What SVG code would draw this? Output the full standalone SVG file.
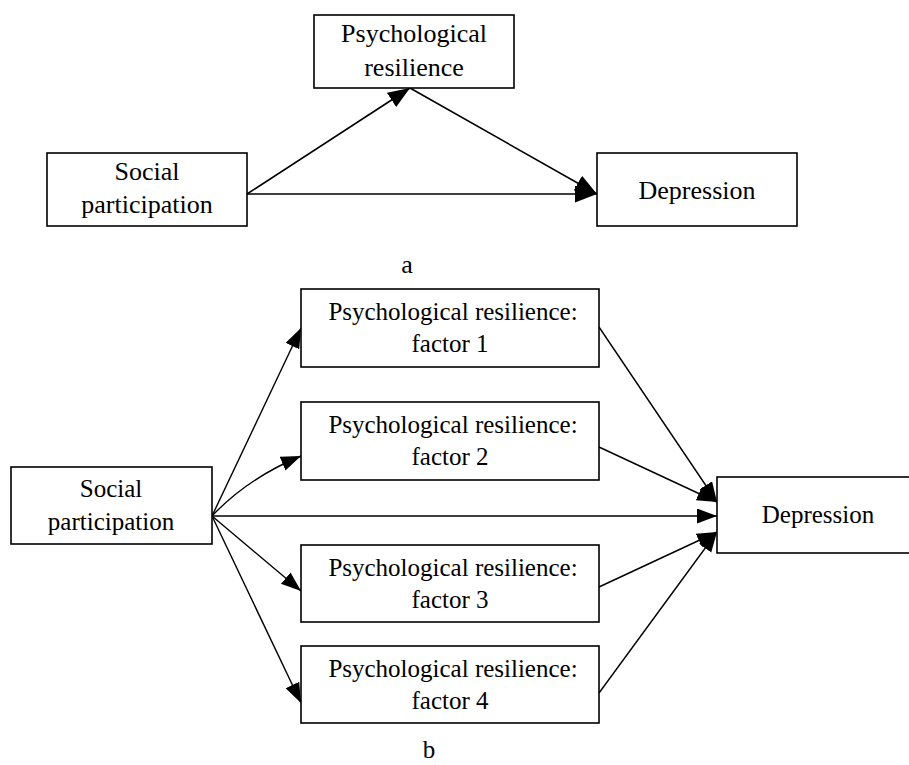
<svg xmlns="http://www.w3.org/2000/svg" width="909" height="765" viewBox="0 0 909 765">
<style>
.box{fill:#fff;stroke:#000;stroke-width:1.6}
.t{font-family:"Liberation Serif","Times New Roman",serif;fill:#000;text-anchor:middle}
.ta{font-size:26px}
.tb{font-size:25px}
.ca{fill:none;stroke:#000;stroke-width:1.6;marker-end:url(#ha)}
.cb{fill:none;stroke:#000;stroke-width:1.4;marker-end:url(#hb)}
</style>
<defs>
<marker id="ha" markerUnits="userSpaceOnUse" markerWidth="24" markerHeight="18" refX="22" refY="8.5" orient="auto" viewBox="0 0 24 18">
<path d="M0,0 L22,8.5 L0,17 Z" fill="#000"/>
</marker>
<marker id="hb" markerUnits="userSpaceOnUse" markerWidth="22" markerHeight="16" refX="20" refY="7.5" orient="auto" viewBox="0 0 22 16">
<path d="M0,0 L20,7.5 L0,15 Z" fill="#000"/>
</marker>
</defs>
<g id="connectors">
<path class="ca" d="M247,194 L410,88"/>
<path class="ca" d="M410,88 L597,194"/>
<path class="ca" d="M247,194 L597,194"/>
<path class="cb" d="M212,516 L301,328"/>
<path class="cb" d="M212,516 Q248,478 301,456"/>
<path class="cb" d="M212,516 L717,516"/>
<path class="cb" d="M212,516 L301,591"/>
<path class="cb" d="M212,516 L301,703"/>
<path class="cb" d="M599,327 L717,502"/>
<path class="cb" d="M599,447 L717,502"/>
<path class="cb" d="M599,587 L717,532"/>
<path class="cb" d="M599,693 L717,532"/>
</g>
<g id="a-resilience">
<rect class="box" x="314" y="15" width="200" height="73"/>
<text class="t ta" x="414" y="42">Psychological</text>
<text class="t ta" x="414" y="76">resilience</text>
</g>
<g id="a-social">
<rect class="box" x="47" y="153" width="200" height="73"/>
<text class="t ta" x="147" y="180">Social</text>
<text class="t ta" x="147" y="213">participation</text>
</g>
<g id="a-depression">
<rect class="box" x="597" y="153" width="200" height="73"/>
<text class="t ta" x="697" y="199">Depression</text>
</g>
<text class="t ta" x="407" y="273">a</text>
<g id="b-social">
<rect class="box" x="11" y="467" width="201" height="77"/>
<text class="t tb" x="111" y="497">Social</text>
<text class="t tb" x="111" y="530">participation</text>
</g>
<g id="b-factor1">
<rect class="box" x="301" y="289" width="298" height="78"/>
<text class="t tb" x="453" y="320">Psychological resilience:</text>
<text class="t tb" x="450" y="352">factor 1</text>
</g>
<g id="b-factor2">
<rect class="box" x="301" y="402" width="298" height="78"/>
<text class="t tb" x="453" y="433">Psychological resilience:</text>
<text class="t tb" x="450" y="465">factor 2</text>
</g>
<g id="b-factor3">
<rect class="box" x="301" y="545" width="298" height="77"/>
<text class="t tb" x="453" y="576">Psychological resilience:</text>
<text class="t tb" x="450" y="608">factor 3</text>
</g>
<g id="b-factor4">
<rect class="box" x="301" y="646" width="298" height="77"/>
<text class="t tb" x="453" y="677">Psychological resilience:</text>
<text class="t tb" x="450" y="709">factor 4</text>
</g>
<g id="b-depression">
<rect class="box" x="717" y="477" width="202" height="76"/>
<text class="t tb" x="818" y="523">Depression</text>
</g>
<text class="t tb" x="429" y="758">b</text>
</svg>
